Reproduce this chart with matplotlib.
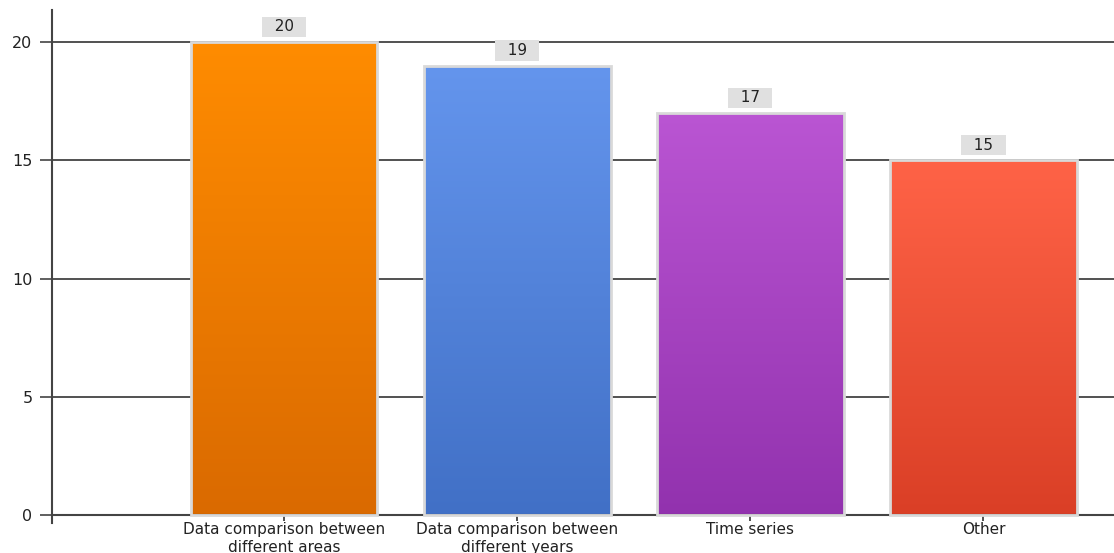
import numpy as np
import matplotlib
matplotlib.use("Agg")
import matplotlib.pyplot as plt
from matplotlib.colors import LinearSegmentedColormap

categories = ["Data comparison between\ndifferent areas",
              "Data comparison between\ndifferent years",
              "Time series",
              "Other"]
values = [20, 19, 17, 15]
top_colors = ["#FF8C00", "#6495ED", "#BA55D3", "#FF6347"]
bottom_colors = ["#DA6A00", "#4170C6", "#9232AE", "#DA3F26"]

plt.rcParams["font.family"] = ["DejaVu Sans"]

fig = plt.figure(figsize=(11.14, 5.53), dpi=100)
ax = fig.add_axes([52 / 1114, 1 - 523 / 553, 1 - 52 / 1114, (523 - 10) / 553])

x = np.arange(len(categories))
bars = ax.bar(x, values, width=0.8, color="none", edgecolor="#d9d9d9",
              linewidth=2, zorder=3)

# gradient fill clipped to each bar
grad = np.linspace(0, 1, 256).reshape(-1, 1)
for bar, c_top, c_bot in zip(bars, top_colors, bottom_colors):
    cmap = LinearSegmentedColormap.from_list("g", [c_bot, c_top])
    bx, by = bar.get_x(), bar.get_y()
    bw, bh = bar.get_width(), bar.get_height()
    im = ax.imshow(grad, cmap=cmap, aspect="auto", origin="lower",
                   extent=[bx, bx + bw, by, by + bh], zorder=2)
    im.set_clip_path(bar)

# value labels in grey boxes
for xi, v in zip(x, values):
    ax.annotate(f"  {v}  ", (xi, v), xytext=(0, 5.5), textcoords="offset points",
                ha="center", va="bottom", fontsize=11, color="#222222",
                bbox=dict(boxstyle="square,pad=0.18", facecolor="#e0e0e0",
                          edgecolor="none"), zorder=4)

ax.set_xlim(-0.996, 3.56)
ax.set_ylim(-0.32, 21.35)
ax.set_yticks([0, 5, 10, 15, 20])
ax.set_xticks(x)
ax.set_xticklabels(categories)
ax.tick_params(axis="y", length=9, width=1.2, color="#444444", pad=5,
               labelsize=11.5, labelcolor="#222222")
ax.tick_params(axis="x", length=4, width=1.2, color="#333333", pad=1,
               labelsize=11, labelcolor="#222222")
for lbl in ax.get_xticklabels():
    lbl.set_linespacing(0.8)

ax.yaxis.grid(True, color="#222222", linewidth=1.1, zorder=1)
ax.set_axisbelow(True)

for s in ["top", "right"]:
    ax.spines[s].set_visible(False)
ax.spines["bottom"].set_position(("data", 0))
ax.spines["bottom"].set_color("#444444")
ax.spines["bottom"].set_linewidth(1.5)
ax.spines["left"].set_color("#444444")
ax.spines["left"].set_linewidth(1.5)

fig.savefig("out.png", dpi=100)
